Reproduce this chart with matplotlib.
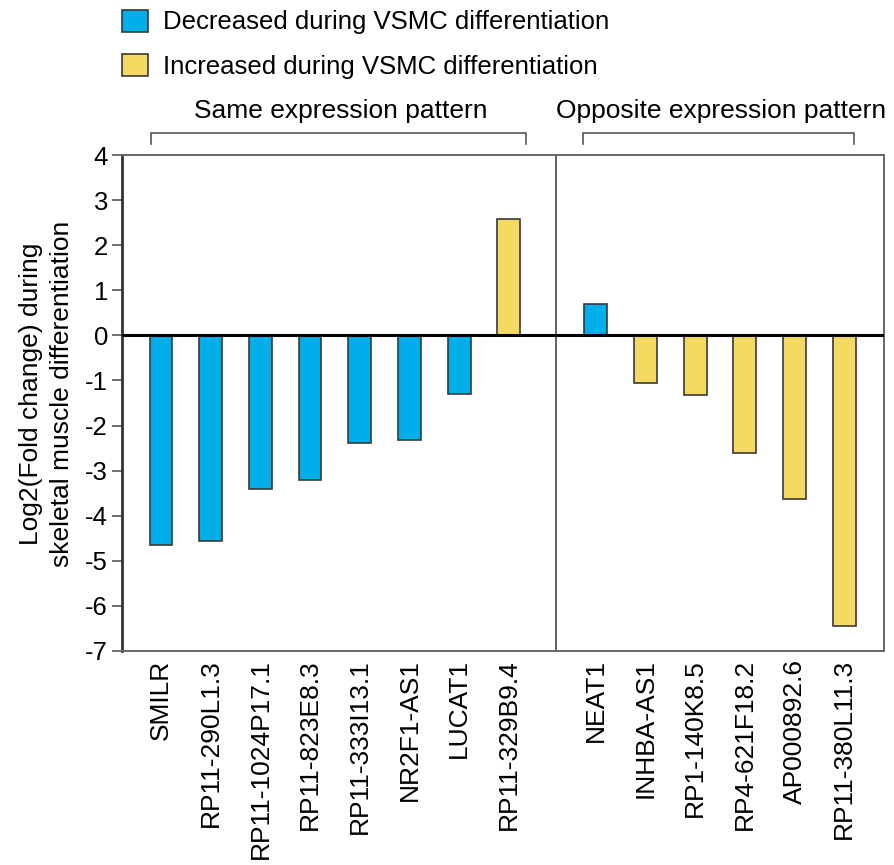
import matplotlib
matplotlib.use("Agg")
import matplotlib.pyplot as plt
from matplotlib.patches import Patch
import matplotlib.transforms as mtransforms
import numpy as np

plt.rcParams['font.family'] = ['Liberation Sans', 'DejaVu Sans']
plt.rcParams['axes.unicode_minus'] = False

same_genes = ["SMILR", "RP11-290L1.3", "RP11-1024P17.1", "RP11-823E8.3",
              "RP11-333I13.1", "NR2F1-AS1", "LUCAT1", "RP11-329B9.4"]
same_values = [-4.65, -4.56, -3.41, -3.20, -2.38, -2.33, -1.29, 2.59]
same_groups = ["dec", "dec", "dec", "dec", "dec", "dec", "dec", "inc"]

opp_genes = ["NEAT1", "INHBA-AS1", "RP1-140K8.5", "RP4-621F18.2",
             "AP000892.6", "RP11-380L11.3"]
opp_values = [0.69, -1.05, -1.32, -2.60, -3.63, -6.45]
opp_groups = ["dec", "inc", "inc", "inc", "inc", "inc"]

legend_labels = {"dec": "Decreased during VSMC differentiation",
                 "inc": "Increased during VSMC differentiation"}
colors = {"dec": "#00AEEA", "inc": "#F4DA63"}

x_same = np.arange(len(same_genes))
x_opp = np.arange(len(opp_genes)) + 8.75
x_all = np.concatenate([x_same, x_opp])
values = same_values + opp_values
groups = same_groups + opp_groups
genes = same_genes + opp_genes

fig = plt.figure(figsize=(8.95, 8.65), dpi=100)
ax = fig.add_axes([0.1363, 0.2474, 0.8514, 0.5734])

ax.bar(x_all, values, width=0.46, color=[colors[g] for g in groups],
       edgecolor="#3a3a3a", linewidth=1.2, zorder=2)

ax.axhline(0, color="black", linewidth=2.2, zorder=3)
ax.axvline(7.95, color="#555555", linewidth=1.3, zorder=1)

ax.set_xlim(-0.785, 14.55)
ax.set_ylim(-7, 4)
ax.set_yticks(np.arange(-7, 5, 1))
ax.set_xticks(x_all)
ax.set_xticklabels(genes, rotation=90, fontsize=19)
ax.tick_params(axis="x", length=0, pad=6)
ax.tick_params(axis="y", labelsize=18.5, length=7, width=1.2, direction="out",
               color="#555555", pad=3)
for s in ax.spines.values():
    s.set_color("#666666")
    s.set_linewidth(1.4)
ax.spines["left"].set_color("#333333")
ax.spines["left"].set_linewidth(2)

ax.set_ylabel("Log2(Fold change) during\nskeletal muscle differentiation",
              fontsize=19, labelpad=8, linespacing=1.35)
ax.yaxis.label.set_y(0.518)

# brackets above the two groups
trans = mtransforms.blended_transform_factory(ax.transData, ax.transAxes)
brackets = [(-0.20, 7.34, "Same expression pattern"),
            (8.49, 13.94, "Opposite expression pattern")]
for x0, x1, label in brackets:
    ax.plot([x0, x0, x1, x1], [1.022, 1.0444, 1.0444, 1.022], color="#555555",
            linewidth=1.2, transform=trans, clip_on=False)
    ax.text((x0 + x1) / 2 + 0.05, 1.0746, label, transform=trans, ha="center",
            va="baseline", fontsize=19)

handles = [Patch(facecolor=colors[k], edgecolor="#3a3a3a", linewidth=1.2,
                 label=legend_labels[k]) for k in ["dec", "inc"]]
fig.legend(handles=handles, loc="upper left", bbox_to_anchor=(0.1363, 0.989),
           frameon=False, fontsize=18.5, handlelength=1.0, handleheight=0.95,
           handletextpad=0.6, labelspacing=0.76, borderpad=0, borderaxespad=0)

fig.savefig("out.png", dpi=100)
